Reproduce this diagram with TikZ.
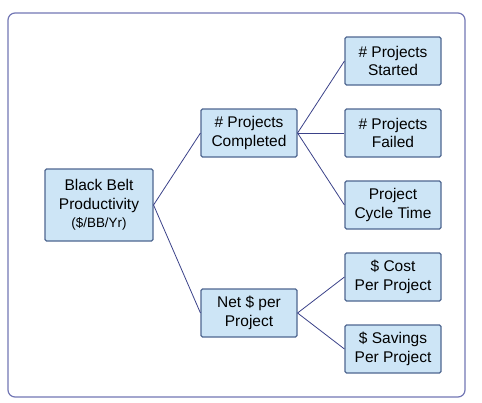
\documentclass[tikz,border=0pt]{standalone}
\usepackage{fontspec}
\setmainfont{Liberation Sans}
\usepackage{tikz}
\usetikzlibrary{positioning}
\usepackage{xcolor}
\definecolor{boxfill}{HTML}{CDE5F6}
\definecolor{boxline}{HTML}{4E6690}
\definecolor{linkcol}{HTML}{3B4289}
\definecolor{framecol}{HTML}{7276B4}

\begin{document}
\begin{tikzpicture}[
  x=1pt, y=-1pt,
  font=\fontsize{15.5}{18.8}\selectfont,
  box/.style={draw=boxline, fill=boxfill, line width=1.1pt, rounded corners=1.5pt,
              align=center, inner sep=0pt, minimum width=96pt, minimum height=48pt},
  root/.style={box, minimum width=108pt, minimum height=72pt},
  link/.style={draw=linkcol, line width=0.8pt}
]
\useasboundingbox (0,0) rectangle (482,402);
\draw[framecol, line width=1.2pt, rounded corners=7pt] (8,13) rectangle (465,397);

\node[root] (bb)  at (99,205)  {Black Belt\\Productivity\\[-1pt]{\fontsize{13.4}{15}\selectfont (\$/BB/Yr)}};
\node[box]  (pc)  at (249,133) {\# Projects\\Completed};
\node[box]  (net) at (249,313) {Net \$ per\\Project};
\node[box]  (ps)  at (393,61)  {\# Projects\\Started};
\node[box]  (pf)  at (393,133) {\# Projects\\Failed};
\node[box]  (ct)  at (393,205) {Project\\Cycle Time};
\node[box]  (cost) at (393,277) {\$ Cost\\Per Project};
\node[box]  (sav) at (393,349) {\$ Savings\\Per Project};

\draw[link] (bb.east) -- (pc.west);
\draw[link] (bb.east) -- (net.west);
\draw[link] (pc.east) -- (ps.west);
\draw[link] (pc.east) -- (pf.west);
\draw[link] (pc.east) -- (ct.west);
\draw[link] (net.east) -- (cost.west);
\draw[link] (net.east) -- (sav.west);
\end{tikzpicture}
\end{document}
